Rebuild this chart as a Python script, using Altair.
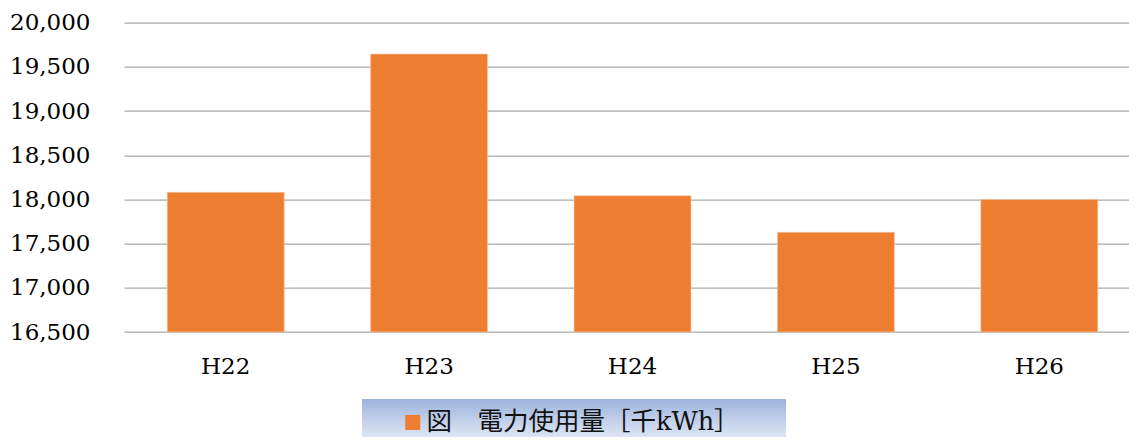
import altair as alt
import pandas as pd

categories = ["H22", "H23", "H24", "H25", "H26"]
values = [18080, 19645, 18042, 17628, 18000]
series_name = "図　電力使用量［千kWh］"
y_ticks = [16500, 17000, 17500, 18000, 18500, 19000, 19500, 20000]

df = pd.DataFrame({"year": categories, "value": values, "series": [series_name] * len(categories)})
bg = pd.DataFrame({"k": [0]})

SERIF = "DejaVu Serif"

bars = alt.Chart(df).mark_bar(stroke="#f6c9a6", strokeWidth=0.6).encode(
    x=alt.X("year:N", sort=categories,
            scale=alt.Scale(paddingInner=0.425, paddingOuter=0.2125, range=[0, 1017]),
            axis=alt.Axis(title=None, labelAngle=0, domain=False, ticks=False,
                          labelFont=SERIF, labelFontSize=23, labelColor="#000000",
                          labelPadding=23, labelBaseline="top")),
    y=alt.Y("value:Q", scale=alt.Scale(domain=[16500, 20000], zero=False, nice=False),
            axis=alt.Axis(title=None, values=y_ticks, format=",.0f", domain=False, ticks=False,
                          labelFont=SERIF, labelFontSize=23, labelColor="#000000",
                          labelPadding=34, gridColor="#a9a9a9", gridWidth=1.3)),
    y2=alt.datum(16500),
    color=alt.Color("series:N", scale=alt.Scale(domain=[series_name], range=["#ED7D31"]),
                    legend=alt.Legend(title=None, orient="none", legendX=276, legendY=387,
                                      symbolType="square", symbolSize=225, symbolStrokeWidth=0,
                                      labelFont=f"{SERIF}, Noto Sans CJK JP", labelFontSize=25.5,
                                      labelColor="#111111", labelOffset=1, padding=0,
                                      labelLimit=600)),
)

legend_bg = alt.Chart(bg).mark_rect(
    fill=alt.Gradient(gradient="linear",
                      stops=[alt.GradientStop(color="#9db4de", offset=0),
                             alt.GradientStop(color="#dde5f4", offset=1)],
                      x1=0, x2=0, y1=0, y2=1),
).encode(x=alt.value(238), x2=alt.value(662), y=alt.value(376.3), y2=alt.value(414.3))

chart = alt.layer(legend_bg, bars).properties(
    width=1005, height=309.3,
    padding={"left": 116, "top": 14.7, "right": 0, "bottom": 105},
    autosize=alt.AutoSizeParams(type="none"),
).configure_view(stroke=None)

chart.save("out.html", embed_options={"renderer": "svg", "actions": False})
